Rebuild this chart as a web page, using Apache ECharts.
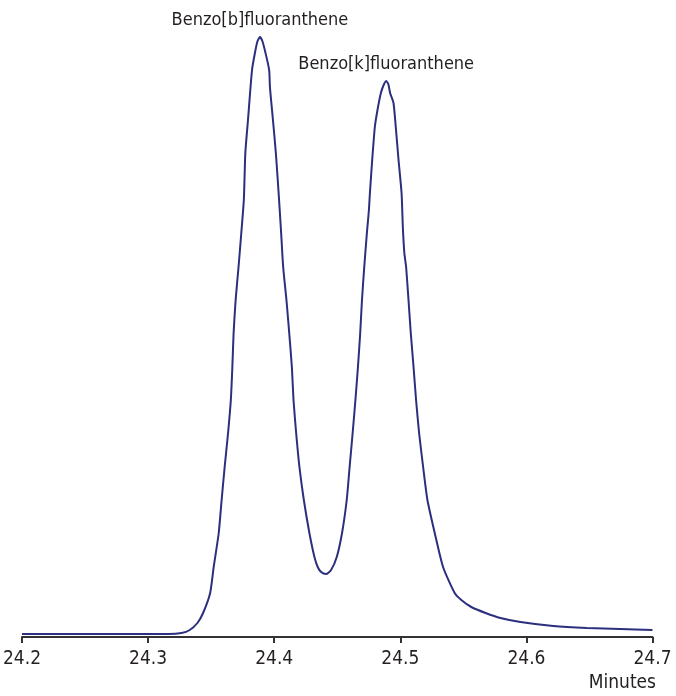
<!DOCTYPE html>
<html>
<head>
<meta charset="utf-8">
<script src="https://cdn.jsdelivr.net/npm/echarts@6/dist/echarts.min.js"></script>
<style>
  html, body { margin: 0; padding: 0; background: #fff; }
  #chart { width: 676px; height: 696px; }
</style>
</head>
<body>
<div id="chart"></div>
<script>
// retention time (minutes)
var times = [
  24.2, 24.2632, 24.3028, 24.316, 24.3265, 24.333, 24.3391, 24.3436, 24.3492, 24.352,
  24.356, 24.3583, 24.3607, 24.3634, 24.3656, 24.3668, 24.3678, 24.3694, 24.3717, 24.3739,
  24.3759, 24.3771, 24.3792, 24.3824, 24.385, 24.3868, 24.3887, 24.3906, 24.3931, 24.396, 24.3966, 24.399,
  24.4013, 24.4036, 24.4055, 24.4071, 24.4097, 24.4119, 24.414, 24.4153, 24.4174, 24.42,
  24.4235, 24.4279, 24.4319, 24.4345, 24.4372, 24.4411, 24.4451, 24.4496, 24.4538, 24.4575,
  24.4598, 24.4622, 24.4644, 24.4664, 24.4682, 24.4696, 24.4714, 24.4735, 24.4751, 24.4759,
  24.4777, 24.4798, 24.4819, 24.4846, 24.4868, 24.4888, 24.4905, 24.4919, 24.4946, 24.4964, 24.4986, 24.501,
  24.502, 24.5032, 24.5046, 24.5065, 24.5083, 24.5105, 24.5125, 24.5149, 24.5181, 24.5215,
  24.5273, 24.5339, 24.5431, 24.5484, 24.5563, 24.5676, 24.5794, 24.5953, 24.6213, 24.648,
  24.6743, 24.7
];
// detector signal (arbitrary units)
var signal = [
  3, 3, 3, 3, 4, 7, 14, 24, 44, 70,
  104, 137, 170, 204, 237, 270, 304, 337, 370, 404,
  437, 484, 517, 567, 586, 596, 600, 596, 584, 567, 550, 517,
  484, 442, 404, 370, 337, 304, 270, 237, 204, 170,
  137, 104, 80, 70, 65, 63, 67, 80, 104, 137,
  170, 204, 237, 270, 304, 337, 370, 404, 427, 444,
  477, 510, 527, 544, 552, 556, 553, 544, 534, 510, 477, 444,
  410, 384, 370, 337, 304, 270, 237, 204, 170, 137,
  104, 70, 44, 37, 30, 24, 19, 15, 11, 9,
  8, 7
];
var peakNames = ['Benzo[b]fluoranthene', 'Benzo[k]fluoranthene'];
var peakTimes = [24.3887, 24.4888];
var peakHeights = [600, 556];

var font = "'Liberation Sans Narrow', 'DejaVu Sans Condensed', sans-serif";
var textColor = '#231f20';

var chart = echarts.init(document.getElementById('chart'));

var lineData = times.map(function (t, i) { return [t, signal[i]]; });
var peakMarks = peakNames.map(function (n, i) {
  return { name: n, coord: [peakTimes[i], peakHeights[i]] };
});

var option = {
  animation: false,
  title: {
    text: 'Minutes',
    right: 15,
    bottom: -2,
    textStyle: { fontFamily: font, fontSize: 19, fontWeight: 'normal', color: textColor }
  },
  grid: { left: 20, right: 23.5, top: 17, bottom: 59 },
  xAxis: {
    type: 'value',
    min: 24.2,
    max: 24.7,
    interval: 0.1,
    splitLine: { show: false },
    axisLine: { lineStyle: { color: '#333', width: 2 } },
    axisTick: { length: 6, lineStyle: { color: '#333', width: 2 } },
    axisLabel: {
      fontFamily: font,
      fontSize: 19,
      color: textColor,
      margin: 13,
      formatter: function (v) { return v.toFixed(1); }
    }
  },
  yAxis: {
    type: 'value',
    min: 0,
    max: 620,
    show: false
  },
  series: [
    {
      type: 'line',
      data: lineData,
      showSymbol: false,
      smooth: 0.2,
      lineStyle: { color: '#2b2f7e', width: 2 },
      markPoint: {
        symbol: 'circle',
        symbolSize: 0,
        label: {
          show: true,
          position: 'top',
          distance: 8,
          formatter: '{b}',
          fontFamily: font,
          fontSize: 18,
          color: textColor
        },
        data: peakMarks
      }
    }
  ]
};

option && chart.setOption(option);
</script>
</body>
</html>
